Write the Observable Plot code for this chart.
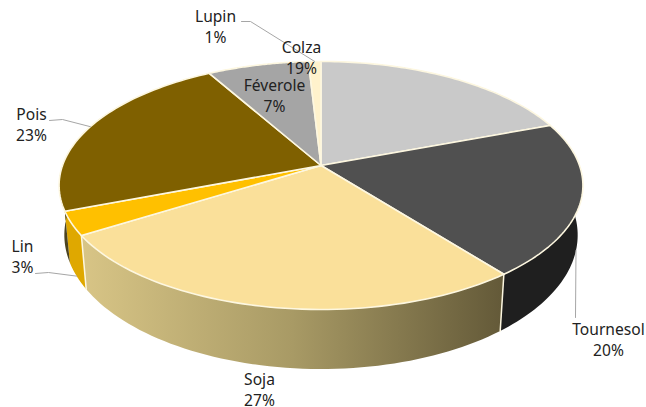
<!DOCTYPE html>
<html>
<head>
<meta charset="utf-8">
<script src="https://cdn.jsdelivr.net/npm/d3@7"></script>
<script src="https://cdn.jsdelivr.net/npm/@observablehq/plot@0.6"></script>
<style>
html,body{margin:0;padding:0;background:#fff}
svg{display:block}
</style>
</head>
<body>
<div id="chart"></div>
<script>
// Data, clockwise from 12 o'clock (slice sizes estimated, labels show them rounded)
const categories = ["Colza", "Tournesol", "Soja", "Lin", "Pois", "Féverole", "Lupin"];
const shares = [19.3, 20.1, 26.7, 3.1, 22.6, 7.3, 0.9];

// Styling
const topColors = ["#c9c9c9", "#505050", "#fae09a", "#ffc000", "#7f6000", "#a5a5a5", "#fff2cc"];
const wallColors = ["#777777", "#1f1f1f", "url(#sojaWall)", "#dfa800", "#4c4420", "#666666", "#998f70"];
const edgeColor = "#fdf7e0";
const leaderColor = "#a6a6a6";

// Perspective pie geometry (pixels in the scales' domain)
const W = 646, H = 407;
const cx = 320.5, cy = 165, R = 258.5, S = 120.8, k = 0.161;
const floorScaleX = 0.98, floorScaleY = 1.08, floorDrop = 48;

const project = (turn, r = 1) => {
  const a = turn * 2 * Math.PI, u = r * Math.sin(a), v = -r * Math.cos(a), d = 1 - k * v;
  return [R * u / d, S * v / d];
};
const topPt = t => { const [a, b] = project(t); return [cx + a, cy + b]; };
const floorPt = t => { const [a, b] = project(t); return [cx + a * floorScaleX, cy + floorDrop + b * floorScaleY]; };

const total = d3.sum(shares);
const cum = d3.cumsum(shares).map(c => c / total);
const slices = categories.map((name, i) => ({
  name, share: shares[i], i,
  start: i ? cum[i - 1] : 0,
  end: cum[i],
  mid: ((i ? cum[i - 1] : 0) + cum[i]) / 2
}));

const arc = (s, pt) => d3.range(0, 61).map(j => pt(s.start + (s.end - s.start) * j / 60));

const topRows = slices.flatMap(s =>
  [[cx, cy], ...arc(s, topPt), [cx, cy]].map(([x, y]) => ({x, y, z: s.name, fill: topColors[s.i]})));
const wallRows = slices.flatMap(s => {
  const ring = [...arc(s, topPt), ...arc(s, floorPt).reverse()];
  return [...ring, ring[0]].map(([x, y]) => ({x, y, z: s.name, fill: wallColors[s.i]}));
});
// Upright edges between the visible walls
const seamRows = slices.filter(s => ["Soja", "Lin"].includes(s.name)).flatMap(s =>
  [topPt(s.start), floorPt(s.start)].map(([x, y]) => ({x, y, z: s.name})));

// Label layout: text centres and leader elbows, leaders end on the slice's rim
const labelAt = {
  Colza: [301, 56], Tournesol: [608, 338.5], Soja: [259, 388.5], Lin: [22, 255.5],
  Pois: [31, 123.5], "Féverole": [274, 94], Lupin: [215, 25]
};
const bySlice = Object.fromEntries(slices.map(s => [s.name, s]));
const leaders = [
  {z: "Lupin", pts: [[241, 21], [250, 21], topPt(bySlice.Lupin.mid)]},
  {z: "Pois", pts: [[49, 120], [62, 119], topPt(bySlice.Pois.mid)]},
  {z: "Lin", pts: [[35, 273], [48, 272], floorPt(bySlice.Lin.mid)]},
  {z: "Tournesol", pts: [[575, 317], floorPt(bySlice.Tournesol.mid)]}
].flatMap(l => l.pts.map(([x, y]) => ({x, y, z: l.z})));

const labelRows = slices.map(s => ({
  x: labelAt[s.name][0], y: labelAt[s.name][1], text: `${s.name}\n${Math.round(s.share)}%`
}));

const defs = () => {
  const d = d3.create("svg:defs");
  const g = d.append("linearGradient").attr("id", "sojaWall");
  [["0%", "#d8c586"], ["50%", "#a89a65"], ["100%", "#635938"]]
    .forEach(([o, c]) => g.append("stop").attr("offset", o).attr("stop-color", c));
  return d.node();
};

const chart = Plot.plot({
  width: W, height: H,
  marginTop: 0, marginRight: 0, marginBottom: 0, marginLeft: 0,
  x: {domain: [0, W], axis: null},
  y: {domain: [H, 0], axis: null},
  color: {type: "identity"},
  style: {background: "#fff", overflow: "visible"},
  marks: [
    defs,
    Plot.line(wallRows, {x: "x", y: "y", z: "z", fill: "fill", stroke: "none", curve: "linear"}),
    Plot.line(seamRows, {x: "x", y: "y", z: "z", stroke: edgeColor, strokeWidth: 1.5, curve: "linear"}),
    Plot.line(topRows, {x: "x", y: "y", z: "z", fill: "fill", stroke: edgeColor, strokeWidth: 1.6, strokeLinejoin: "round", curve: "linear"}),
    Plot.line(leaders, {x: "x", y: "y", z: "z", stroke: leaderColor, strokeWidth: 1, curve: "linear"}),
    Plot.text(labelRows, {
      x: "x", y: "y", text: "text", fill: "#222",
      fontFamily: "'Noto Sans', sans-serif", fontSize: 15.6, lineHeight: 1.34, textAnchor: "middle"
    })
  ]
});
document.getElementById("chart").append(chart);
</script>
</body>
</html>
